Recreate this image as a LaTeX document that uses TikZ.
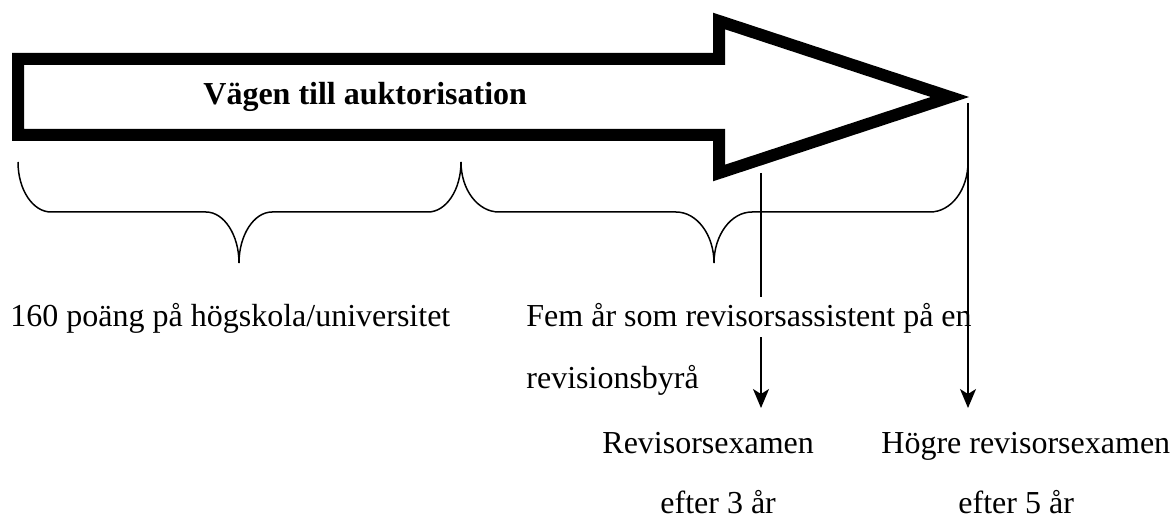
\documentclass[tikz,border=0pt]{standalone}
\usepackage{fontspec}
\setmainfont{Liberation Serif}
\usetikzlibrary{arrows.meta}
\begin{document}
\begin{tikzpicture}[x=0.5pt,y=-0.5pt,
  bigarrow/.style={line width=6pt, line join=miter, miter limit=10},
  brace/.style={line width=0.75pt},
  pointer/.style={line width=0.75pt, -{Stealth[length=9.5pt,width=8pt,inset=2.5pt]}},
  lbl/.style={anchor=base west, inner sep=0pt, font=\fontsize{16pt}{19pt}\selectfont},
]
\useasboundingbox (0,0) rectangle (1176,518);

% the block arrow
\draw[bigarrow] (18,59) -- (719,59) -- (719,21) -- (950,97) -- (719,173)
  -- (719,135) -- (18,135) -- cycle;
\node[lbl, font=\fontsize{16pt}{19pt}\selectfont\bfseries] (title) at (203,105) {Vägen till auktorisation};

% braces under the arrow
\draw[brace] (18,162) .. controls (18,190) and (33,212) .. (51,212) -- (206,212)
  .. controls (224,212) and (239,235) .. (239,263)
  .. controls (239,235) and (254,212) .. (272,212) -- (428,212)
  .. controls (446,212) and (461,190) .. (461,162);
\draw[brace] (461,162) .. controls (461,190) and (478,212) .. (499,212) -- (676,212)
  .. controls (697,212) and (714,235) .. (714,263)
  .. controls (714,235) and (731,212) .. (752,212) -- (930,212)
  .. controls (951,212) and (968,190) .. (968,162);

% pointer start and end points
\coordinate (s1) at (761,173);
\coordinate (e1) at (761,408);
\coordinate (s2) at (968,103);
\coordinate (e2) at (968,408);

\draw[pointer] (s1) -- (e1);

% labels
\node[lbl] (uni) at (10,326) {160 poäng på högskola/universitet};
\node[lbl, fill=white, text height=14.3pt, text depth=5.5pt] (fem) at (526,326) {Fem år som revisorsassistent på en};
\node[lbl] (byra) at (526,388) {revisionsbyrå};
\node[lbl] (rex) at (602,453) {Revisorsexamen};
\node[lbl] (rex3) at (660,513) {efter 3 år};
\node[lbl] (hrex) at (881,453) {Högre revisorsexamen};
\node[lbl] (hrex5) at (958,513) {efter 5 år};

\draw[pointer] (s2) -- (e2);
\end{tikzpicture}
\end{document}
